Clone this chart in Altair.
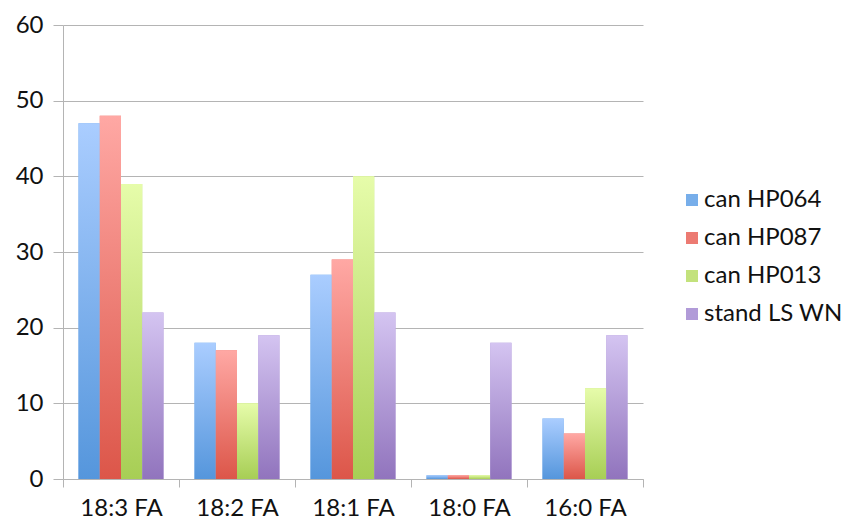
import altair as alt
import pandas as pd

# Fatty-acid composition (%) by line
categories = ["18:3 FA", "18:2 FA", "18:1 FA", "18:0 FA", "16:0 FA"]
series = ["can HP064", "can HP087", "can HP013", "stand LS WN"]
hp064 = [47, 18, 27, 0.5, 8]
hp087 = [48, 17, 29, 0.5, 6]
hp013 = [39, 10, 40, 0.5, 12]
stand_ls_wn = [22, 19, 22, 18, 19]

# Bar shading: light at the top, deeper at the base
top_colors = ["#aacdff", "#ffa8a4", "#e6fcaa", "#d4c4f1"]
bottom_colors = ["#5596dc", "#dc5649", "#a7ce55", "#9174bd"]
legend_colors = ["#77aeea", "#ec7a72", "#c3e27c", "#b19bd8"]

rows = []
for name, vals in zip(series, [hp064, hp087, hp013, stand_ls_wn]):
    for cat, v in zip(categories, vals):
        rows.append({"fa": cat, "series": name, "value": v})
df = pd.DataFrame(rows)

FONT = "Lato"
GRID = "#b4b4b4"
TEXT = "#111"

x = alt.X(
    "fa:N",
    sort=categories,
    scale=alt.Scale(paddingInner=0, paddingOuter=0),
    axis=alt.Axis(
        title=None, labelAngle=0, tickBand="extent", grid=False,
        domainColor=GRID, tickColor=GRID, tickSize=8,
        labelFontSize=24, labelPadding=9, labelColor=TEXT,
        labelFont=FONT,
    ),
)
xoff = alt.XOffset(
    "series:N", sort=series,
    scale=alt.Scale(domain=series, paddingInner=0, paddingOuter=0.73),
)
y = alt.Y(
    "value:Q",
    scale=alt.Scale(domain=[0, 60], nice=False),
    axis=alt.Axis(
        title=None, values=[0, 10, 20, 30, 40, 50, 60], grid=True,
        gridColor=GRID, domainColor=GRID, tickColor=GRID, tickSize=10,
        labelFontSize=24, labelPadding=10, labelColor=TEXT, labelFont=FONT,
    ),
)

base = alt.Chart(df).mark_bar().encode(
    x=x, xOffset=xoff, y=y,
    color=alt.Color(
        "series:N",
        scale=alt.Scale(domain=series, range=legend_colors),
        legend=alt.Legend(
            title=None, orient="none", legendX=617, legendY=163,
            symbolType="square", symbolSize=144, symbolStrokeWidth=0,
            labelFontSize=24, labelFont=FONT, labelColor=TEXT,
            rowPadding=14, labelOffset=0,
        ),
    ),
)

layers = [base]
for name, top, bottom in zip(series, top_colors, bottom_colors):
    grad = alt.Gradient(
        gradient="linear", x1=0, y1=0, x2=0, y2=1,
        stops=[alt.GradientStop(offset=0, color=top),
               alt.GradientStop(offset=1, color=bottom)],
    )
    layers.append(
        alt.Chart(df)
        .transform_filter(alt.datum.series == name)
        .mark_bar(fill=grad)
        .encode(x=x, xOffset=xoff, y=y)
    )

chart = (
    alt.layer(*layers)
    .properties(
        width=580, height=454,
        autosize=alt.AutoSizeParams(type="none"),
        padding={"left": 63, "top": 25, "right": 202, "bottom": 45},
        background="white",
    )
    .configure_view(stroke=None)
)

chart.save("out.html", embed_options={"renderer": "svg", "actions": False})
